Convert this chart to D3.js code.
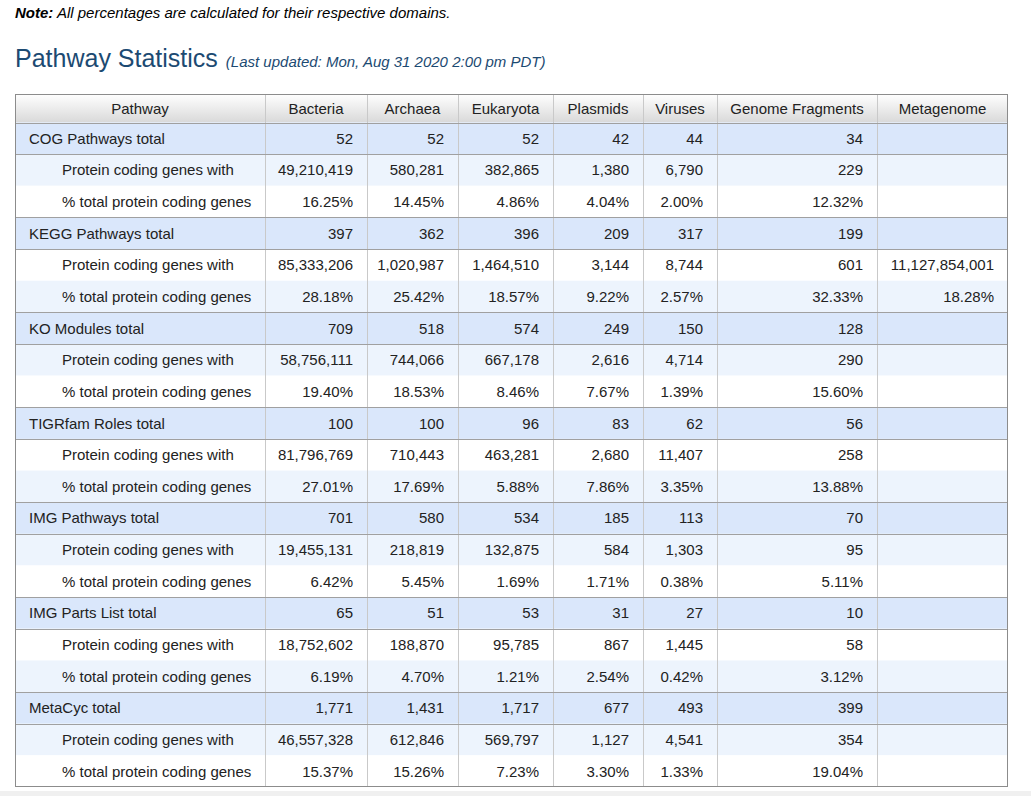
<!DOCTYPE html>
<html>
<head>
<meta charset="utf-8">
<script src="https://cdn.jsdelivr.net/npm/d3@7"></script>
<style>
  html, body { margin: 0; padding: 0; background: #fff; }
  svg { display: block; }
</style>
</head>
<body>
<svg id="chart" width="1031" height="796"></svg>
<script>
// ---------- DATA ----------
const columns = ["Pathway", "Bacteria", "Archaea", "Eukaryota", "Plasmids", "Viruses", "Genome Fragments", "Metagenome"];
const pathways = ["COG Pathways total", "KEGG Pathways total", "KO Modules total", "TIGRfam Roles total", "IMG Pathways total", "IMG Parts List total", "MetaCyc total"];
const subLabels = ["Protein coding genes with", "% total protein coding genes"];
// per pathway: Bacteria, Archaea, Eukaryota, Plasmids, Viruses, Genome Fragments, Metagenome
const pathwayTotals = [
  [52, 52, 52, 42, 44, 34, null],
  [397, 362, 396, 209, 317, 199, null],
  [709, 518, 574, 249, 150, 128, null],
  [100, 100, 96, 83, 62, 56, null],
  [701, 580, 534, 185, 113, 70, null],
  [65, 51, 53, 31, 27, 10, null],
  [1771, 1431, 1717, 677, 493, 399, null]
];
const genesWith = [
  [49210419, 580281, 382865, 1380, 6790, 229, null],
  [85333206, 1020987, 1464510, 3144, 8744, 601, 11127854001],
  [58756111, 744066, 667178, 2616, 4714, 290, null],
  [81796769, 710443, 463281, 2680, 11407, 258, null],
  [19455131, 218819, 132875, 584, 1303, 95, null],
  [18752602, 188870, 95785, 867, 1445, 58, null],
  [46557328, 612846, 569797, 1127, 4541, 354, null]
];
const pctTotal = [
  [16.25, 14.45, 4.86, 4.04, 2.00, 12.32, null],
  [28.18, 25.42, 18.57, 9.22, 2.57, 32.33, 18.28],
  [19.40, 18.53, 8.46, 7.67, 1.39, 15.60, null],
  [27.01, 17.69, 5.88, 7.86, 3.35, 13.88, null],
  [6.42, 5.45, 1.69, 1.71, 0.38, 5.11, null],
  [6.19, 4.70, 1.21, 2.54, 0.42, 3.12, null],
  [15.37, 15.26, 7.23, 3.30, 1.33, 19.04, null]
];
const noteBold = "Note:";
const noteText = " All percentages are calculated for their respective domains.";
const titleText = "Pathway Statistics";
const subtitleText = "(Last updated: Mon, Aug 31 2020 2:00 pm PDT)";

// ---------- LAYOUT ----------
const FONT = "Arial, 'Liberation Sans', Helvetica, sans-serif";
const FS = 15;
const colEdges = [15, 265, 367, 458, 553, 643, 717, 877, 1008];
const tableTop = 94, headerBottom = 122.5, tableBottom = 787;

const fmtInt = d3.format(",");
const fmtPct = v => d3.format(".2f")(v) + "%";

// build rows
const rows = [];
pathways.forEach((p, i) => {
  rows.push({ type: "total", label: p, values: pathwayTotals[i], fmt: fmtInt, group: i });
  rows.push({ type: "sub", label: subLabels[0], values: genesWith[i], fmt: fmtInt, group: i });
  rows.push({ type: "sub", label: subLabels[1], values: pctTotal[i], fmt: fmtPct, group: i });
});

const svg = d3.select("#chart");

// defs: header gradient
const defs = svg.append("defs");
const grad = defs.append("linearGradient").attr("id", "hdr").attr("x1", 0).attr("y1", 0).attr("x2", 0).attr("y2", 1);
grad.append("stop").attr("offset", "0%").attr("stop-color", "#ffffff");
grad.append("stop").attr("offset", "100%").attr("stop-color", "#d9d9d9");

// note
const note = svg.append("text").attr("x", 15).attr("y", 18)
  .attr("font-family", FONT).attr("font-size", 15).attr("font-style", "italic").attr("fill", "#000");
note.append("tspan").attr("font-weight", "bold").text(noteBold);
note.append("tspan").text(noteText);

// title
const title = svg.append("text").attr("x", 15).attr("y", 67).attr("font-family", FONT);
title.append("tspan").attr("font-size", 25).attr("fill", "#1c4a72").text(titleText);
title.append("tspan").attr("font-size", 15).attr("font-style", "italic").attr("fill", "#1c4a72").attr("dx", 8).text(subtitleText);

// scales
const x = d3.scaleOrdinal().domain(columns).range(colEdges.slice(0, -1));
const w = c => colEdges[columns.indexOf(c) + 1] - colEdges[columns.indexOf(c)];
const y = d3.scaleBand().domain(d3.range(rows.length)).range([headerBottom, tableBottom]).paddingInner(0).paddingOuter(0);

const tableLeft = colEdges[0], tableRight = colEdges[colEdges.length - 1];

// header background
svg.append("rect").attr("x", tableLeft).attr("y", tableTop).attr("width", tableRight - tableLeft).attr("height", headerBottom - tableTop)
  .attr("fill", "url(#hdr)");

// row backgrounds
svg.append("g").selectAll("rect").data(rows).join("rect")
  .attr("x", tableLeft).attr("y", (d, i) => y(i)).attr("width", tableRight - tableLeft).attr("height", y.bandwidth())
  .attr("fill", (d, i) => d.type === "total" ? "#dae7fb" : (i % 2 === 1 ? "#edf4fd" : "#ffffff"));

// vertical lines
svg.append("g").selectAll("line").data(colEdges.slice(1, -1)).join("line")
  .attr("x1", d => d + 0.5).attr("x2", d => d + 0.5).attr("y1", tableTop).attr("y2", tableBottom)
  .attr("stroke", "#c9c9c9").attr("stroke-width", 1);

// horizontal lines: header bottom, and above/below total rows
const hLines = [];
rows.forEach((r, i) => {
  if (r.type === "total") { hLines.push(y(i)); hLines.push(y(i) + y.bandwidth()); }
});
svg.append("g").selectAll("line").data(hLines).join("line")
  .attr("x1", tableLeft).attr("x2", tableRight)
  .attr("y1", d => Math.round(d) + 0.5).attr("y2", d => Math.round(d) + 0.5)
  .attr("stroke", "#a0a0a0").attr("stroke-width", 1);

// outer border
svg.append("rect").attr("x", tableLeft + 0.5).attr("y", tableTop + 0.5)
  .attr("width", tableRight - tableLeft - 1).attr("height", tableBottom - tableTop - 1)
  .attr("fill", "none").attr("stroke", "#8c8c8c").attr("stroke-width", 1);

// header text
svg.append("g").selectAll("text").data(columns).join("text")
  .attr("x", c => x(c) + w(c) / 2).attr("y", (tableTop + headerBottom) / 2).attr("dy", "0.36em")
  .attr("text-anchor", "middle").attr("font-family", FONT).attr("font-size", FS).attr("fill", "#222")
  .text(c => c);

// row labels
svg.append("g").selectAll("text").data(rows).join("text")
  .attr("x", d => d.type === "total" ? tableLeft + 14 : tableLeft + 47)
  .attr("y", (d, i) => y(i) + y.bandwidth() / 2).attr("dy", "0.36em")
  .attr("font-family", FONT).attr("font-size", FS).attr("fill", "#222")
  .text(d => d.label);

// values
const valueCols = columns.slice(1);
const cells = [];
rows.forEach((r, i) => {
  r.values.forEach((v, j) => {
    if (v !== null) cells.push({ row: i, col: valueCols[j], text: r.fmt(v) });
  });
});
svg.append("g").selectAll("text").data(cells).join("text")
  .attr("x", d => x(d.col) + w(d.col) - 14)
  .attr("y", d => y(d.row) + y.bandwidth() / 2).attr("dy", "0.36em")
  .attr("text-anchor", "end").attr("font-family", FONT).attr("font-size", FS).attr("fill", "#222")
  .text(d => d.text);

// bottom strip
svg.append("rect").attr("x", 0).attr("y", 791).attr("width", 1031).attr("height", 5).attr("fill", "#f0f0f0");
</script>
</body>
</html>
